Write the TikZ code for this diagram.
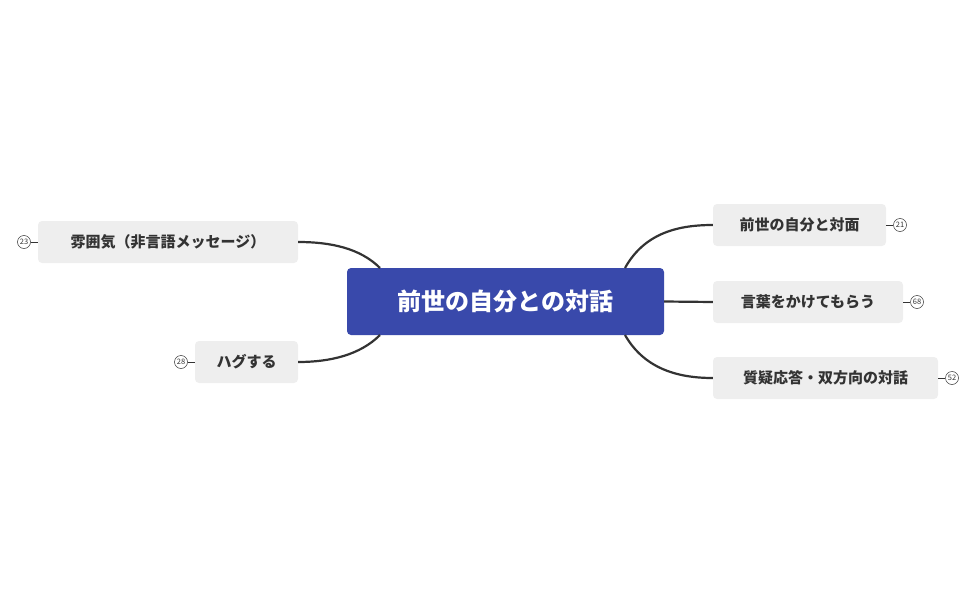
\documentclass[tikz,border=0pt]{standalone}
\usepackage{fontspec}
\setmainfont{Noto Sans CJK JP}
\definecolor{mainblue}{HTML}{3949AB}
\definecolor{subgray}{HTML}{EEEEEE}
\definecolor{linec}{HTML}{333333}
\begin{document}
\begin{tikzpicture}[x=1pt,y=-1pt,
  sub/.style={fill=subgray,rounded corners=4pt,minimum height=42pt,inner xsep=0pt,font=\fontsize{15}{18}\selectfont\bfseries,text=black!80,anchor=center},
  con/.style={draw=linec,line width=2.2pt},
  cnt/.style={circle,draw=black!80,line width=0.5pt,inner sep=0pt,minimum size=13pt,font=\fontsize{7.5}{8}\selectfont,text=black!80}]
\useasboundingbox (0,0) rectangle (976,604);
\node[fill=mainblue,rounded corners=4pt,minimum width=317pt,minimum height=67pt,text=white,font=\fontsize{24}{28}\selectfont\bfseries] (c) at (505.5,301.5) {前世の自分との対話};
\node[sub,minimum width=260pt] (l1) at (168,242) {雰囲気（非言語メッセージ）};
\node[sub,minimum width=103pt] (l2) at (246.5,362) {ハグする};
\node[sub,minimum width=173pt] (r1) at (799.5,225) {前世の自分と対面};
\node[sub,minimum width=190pt] (r2) at (808,302) {言葉をかけてもらう};
\node[sub,minimum width=225pt] (r3) at (825.5,378) {質疑応答・双方向の対話};
\coordinate (cl1) at (380,268);
\coordinate (cl2) at (380,335);
\coordinate (cr1) at (625,268);
\coordinate (cr3) at (625,335);
\draw[con] (cl1) .. controls (360,248) and (330,242) .. (l1.east);
\draw[con] (cl2) .. controls (360,355) and (330,362) .. (l2.east);
\draw[con] (cr1) .. controls (645,232) and (680,225) .. (r1.west);
\draw[con] (c.east) -- (r2.west);
\draw[con] (cr3) .. controls (645,370) and (680,378) .. (r3.west);
\node[cnt] (n1) at (24,242) {23};
\node[cnt] (n2) at (181,362) {28};
\node[cnt] (n3) at (900,225) {21};
\node[cnt] (n4) at (917,302) {68};
\node[cnt] (n5) at (952,378) {52};
\draw[linec,line width=1pt] (n1.east) -- (l1.west);
\draw[linec,line width=1pt] (n2.east) -- (l2.west);
\draw[linec,line width=1pt] (r1.east) -- (n3.west);
\draw[linec,line width=1pt] (r2.east) -- (n4.west);
\draw[linec,line width=1pt] (r3.east) -- (n5.west);
\end{tikzpicture}
\end{document}
